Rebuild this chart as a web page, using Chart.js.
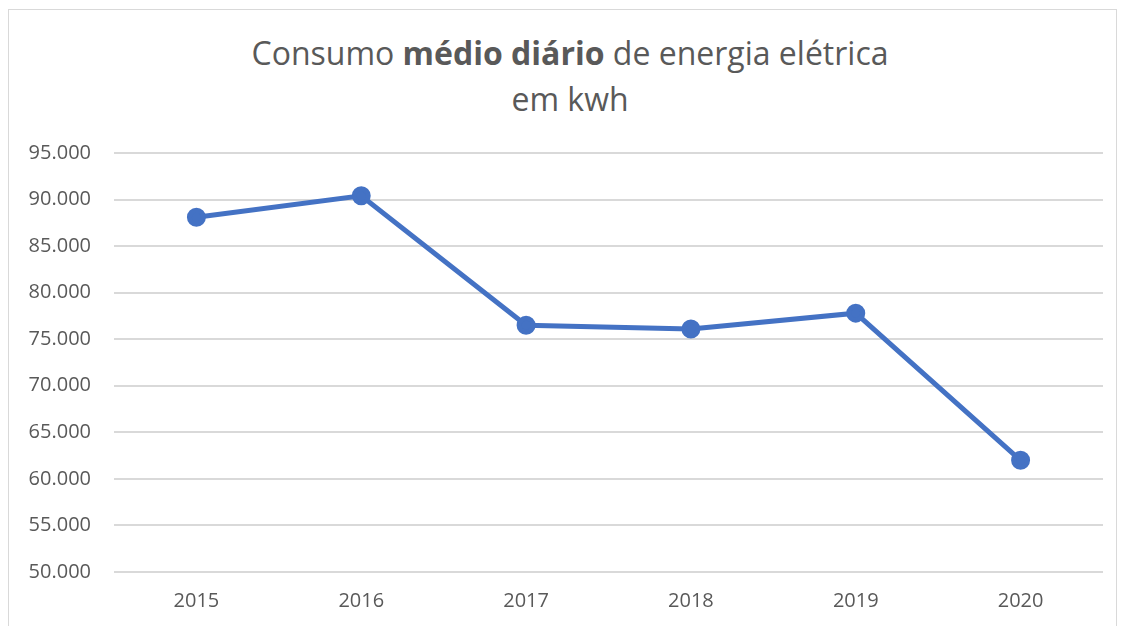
<!DOCTYPE html>
<html>
<head>
<meta charset="utf-8">
<script src="https://cdn.jsdelivr.net/npm/chart.js@4"></script>
<style>
  html, body { margin: 0; padding: 0; background: #fff; }
  #wrap { position: relative; width: 1123px; height: 626px; overflow: hidden; }
  #frame { position: absolute; left: 8px; top: 9px; width: 1109px; height: 640px; border: 1px solid #d9d9d9; box-sizing: border-box; }
  #title { position: absolute; left: 0; width: 1140px; top: 30px; text-align: center; font-family: "Open Sans", sans-serif; font-size: 32px; line-height: 46px; color: #595959; }
  canvas { position: absolute; left: 0; top: 0; }
</style>
</head>
<body>
<div id="wrap">
  <div id="frame"></div>
  <div id="title">Consumo <b>médio diário</b> de energia elétrica<br>em kwh</div>
  <canvas id="chart" width="1123" height="626"></canvas>
</div>
<script>
const years = ['2015', '2016', '2017', '2018', '2019', '2020'];
const consumo = [88100, 90400, 76500, 76100, 77800, 62000];
const yMin = 50000, yMax = 95000, yStep = 5000;

function fmt(v){ return String(v).replace(/\B(?=(\d{3})+(?!\d))/g, '.'); }

new Chart(document.getElementById('chart'), {
  type: 'line',
  data: {
    labels: years,
    datasets: [{
      label: 'Consumo médio diário',
      data: consumo,
      borderColor: '#4472C4',
      backgroundColor: '#4472C4',
      borderWidth: 5,
      pointRadius: 7,
      pointHoverRadius: 7,
      tension: 0
    }]
  },
  options: {
    responsive: false,
    animation: false,
    layout: { padding: { left: 0, right: 20, top: 153, bottom: 0 } },
    plugins: { legend: { display: false }, title: { display: false }, tooltip: { enabled: false } },
    scales: {
      x: {
        offset: true,
        grid: { display: false, drawTicks: false },
        border: { display: false },
        ticks: { color: '#595959', font: { family: 'Open Sans', size: 20 }, padding: 17 },
        afterFit: s => { s.height = 54; }
      },
      y: {
        min: yMin, max: yMax,
        grid: { color: '#d9d9d9', lineWidth: 2, drawTicks: false },
        border: { display: false },
        ticks: { stepSize: yStep, color: '#595959', font: { family: 'Open Sans', size: 20 }, padding: 23, callback: v => fmt(v) },
        afterFit: s => { s.width = 114; }
      }
    }
  }
});
</script>
</body>
</html>
